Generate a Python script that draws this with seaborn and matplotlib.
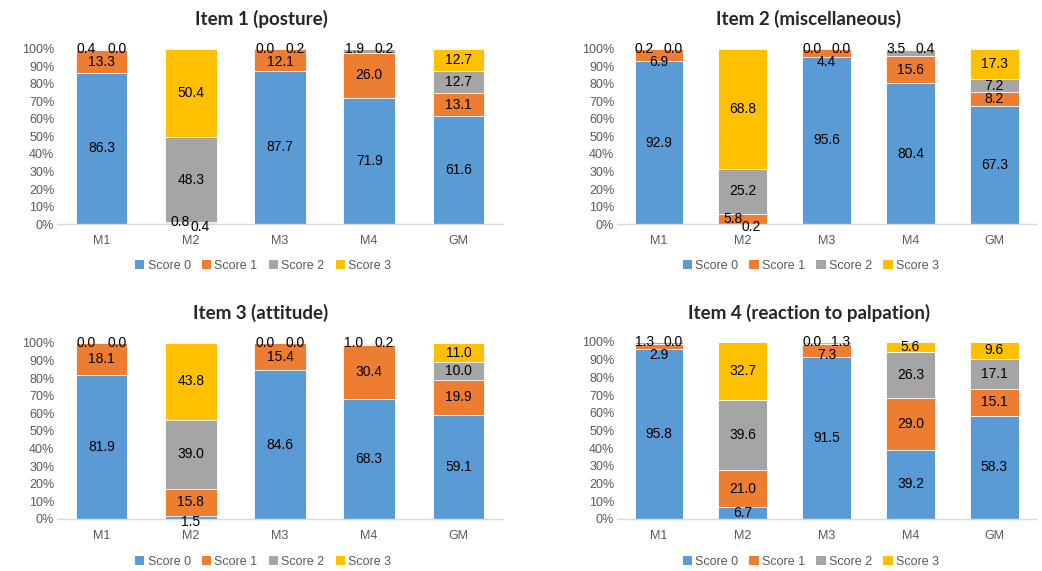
"""Stacked percentage bars of pain scores per item and observer."""

import matplotlib.pyplot as plt
import numpy as np
import pandas as pd
import seaborn as sns
from matplotlib.patches import Patch

OBSERVERS = ["M1", "M2", "M3", "M4", "GM"]
SCORES = ["Score 0", "Score 1", "Score 2", "Score 3"]
TITLES = [
    "Item 1 (posture)",
    "Item 2 (miscellaneous)",
    "Item 3 (attitude)",
    "Item 4 (reaction to palpation)",
]

# percentage of each score per observer, one list per score
ITEM1_SCORE0 = [86.3, 0.4, 87.7, 71.9, 61.6]
ITEM1_SCORE1 = [13.3, 0.8, 12.1, 26.0, 13.1]
ITEM1_SCORE2 = [0.4, 48.3, 0.0, 1.9, 12.7]
ITEM1_SCORE3 = [0.0, 50.4, 0.2, 0.2, 12.7]

ITEM2_SCORE0 = [92.9, 0.2, 95.6, 80.4, 67.3]
ITEM2_SCORE1 = [6.9, 5.8, 4.4, 15.6, 8.2]
ITEM2_SCORE2 = [0.2, 25.2, 0.0, 3.5, 7.2]
ITEM2_SCORE3 = [0.0, 68.8, 0.0, 0.4, 17.3]

ITEM3_SCORE0 = [81.9, 1.5, 84.6, 68.3, 59.1]
ITEM3_SCORE1 = [18.1, 15.8, 15.4, 30.4, 19.9]
ITEM3_SCORE2 = [0.0, 39.0, 0.0, 1.0, 10.0]
ITEM3_SCORE3 = [0.0, 43.8, 0.0, 0.2, 11.0]

ITEM4_SCORE0 = [95.8, 6.7, 91.5, 39.2, 58.3]
ITEM4_SCORE1 = [2.9, 21.0, 7.3, 29.0, 15.1]
ITEM4_SCORE2 = [1.3, 39.6, 0.0, 26.3, 17.1]
ITEM4_SCORE3 = [0.0, 32.7, 1.3, 5.6, 9.6]

ITEMS = [
    [ITEM1_SCORE0, ITEM1_SCORE1, ITEM1_SCORE2, ITEM1_SCORE3],
    [ITEM2_SCORE0, ITEM2_SCORE1, ITEM2_SCORE2, ITEM2_SCORE3],
    [ITEM3_SCORE0, ITEM3_SCORE1, ITEM3_SCORE2, ITEM3_SCORE3],
    [ITEM4_SCORE0, ITEM4_SCORE1, ITEM4_SCORE2, ITEM4_SCORE3],
]

COLORS = ["#5B9BD5", "#ED7D31", "#A5A5A5", "#FFC000"]
AXIS_GREY = "#595959"

sns.set_theme(style="white")
plt.rcParams["font.family"] = ["Liberation Sans", "DejaVu Sans"]

# axes boxes in figure fractions (left, bottom, width, height)
AX_BOXES = [
    (0.0547, 0.6077, 0.428, 0.3065),
    (0.5921, 0.6077, 0.4025, 0.3065),
    (0.0547, 0.0911, 0.428, 0.3082),
    (0.5921, 0.0911, 0.4025, 0.3100),
]
TITLE_POS = [(0.2505, 0.966), (0.7755, 0.966), (0.2505, 0.452), (0.7765, 0.452)]
LEGEND_POS = [(0.2525, 0.534), (0.778, 0.534), (0.2525, 0.0158), (0.778, 0.0158)]


def draw_item(ax, values):
    data = np.array(values)  # shape (4 scores, 5 observers)
    tops = np.cumsum(data, axis=0)

    # draw from the tallest cumulative bar down so lower segments sit on top
    for k in range(len(SCORES) - 1, -1, -1):
        frame = pd.DataFrame({"observer": OBSERVERS, "pct": tops[k]})
        sns.barplot(
            data=frame, x="observer", y="pct", order=OBSERVERS,
            color=COLORS[k], saturation=1, width=0.58,
            edgecolor="white", linewidth=0.6, ax=ax,
        )

    for i in range(len(OBSERVERS)):
        s0, s1, s2, s3 = data[:, i]
        top_pair = s2 < 4 and s3 < 4
        for k in range(len(SCORES)):
            val = data[k, i]
            x = i
            y = tops[k, i] - val / 2
            if top_pair and k >= 2:
                x = i - 0.17 if k == 2 else i + 0.17
                y = 99.8
            elif top_pair and k == 1:
                y = min(y, 92.5)
            elif k == 0 and val < 3:
                x = i + 0.1 if s1 < 8 else i
                y = -1.5
            elif k == 1 and s0 < 3 and val < 8:
                x = i - 0.12
                y = max(y, 1.0)
            ax.text(x, y, f"{val:.1f}", ha="center", va="center",
                    fontsize=10, color="black")

    ax.set_ylim(0, 100)
    ax.set_xlim(-0.5, 4.5)
    ax.set_yticks(np.arange(0, 101, 10))
    ax.set_yticklabels([f"{t}%" for t in range(0, 101, 10)])
    ax.set_xlabel("")
    ax.set_ylabel("")
    ax.tick_params(axis="both", length=0, labelsize=9, colors=AXIS_GREY)
    ax.tick_params(axis="x", pad=8)
    ax.tick_params(axis="y", pad=2)
    sns.despine(ax=ax, left=True)
    ax.spines["bottom"].set_color("#D9D9D9")
    ax.spines["bottom"].set_linewidth(1.0)


fig = plt.figure(figsize=(10.42, 5.71), dpi=100)
handles = [Patch(facecolor=c, edgecolor="none") for c in COLORS]

for idx, values in enumerate(ITEMS):
    ax = fig.add_axes(AX_BOXES[idx])
    draw_item(ax, values)
    tx, ty = TITLE_POS[idx]
    fig.text(tx, ty, TITLES[idx], ha="center", va="center",
             fontsize=13.5, fontweight="bold", family=["Lato", "DejaVu Sans"])
    lx, ly = LEGEND_POS[idx]
    fig.legend(
        handles, SCORES, loc="center", bbox_to_anchor=(lx, ly),
        ncol=4, frameon=False, fontsize=9, labelcolor=AXIS_GREY,
        handlelength=0.75, handleheight=0.75, handletextpad=0.25,
        columnspacing=0.9, borderaxespad=0, borderpad=0,
    )

fig.savefig("out.png", dpi=100, facecolor="white")
